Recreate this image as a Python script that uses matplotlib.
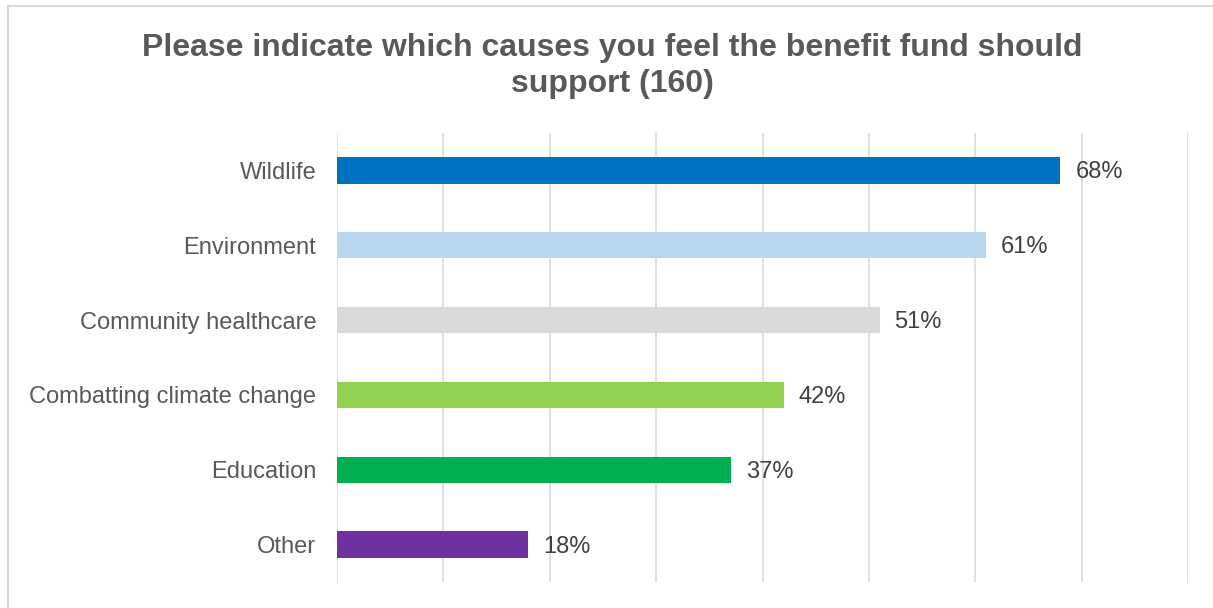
import matplotlib
matplotlib.use("Agg")
import matplotlib.pyplot as plt
from matplotlib.lines import Line2D

categories = ["Wildlife", "Environment", "Community healthcare",
              "Combatting climate change", "Education", "Other"]
values = [68, 61, 51, 42, 37, 18]
colors = ["#0070C0", "#B9D6F1", "#D9D9D9", "#92D050", "#00B050", "#7030A0"]
x_ticks = [0, 10, 20, 30, 40, 50, 60, 70, 80]
title = "Please indicate which causes you feel the benefit fund should\nsupport (160)"

plt.rcParams["font.family"] = ["Liberation Sans", "DejaVu Sans"]

W, H = 1213, 608
fig = plt.figure(figsize=(W / 100, H / 100), dpi=100)
fig.patch.set_facecolor("white")

# chart area frame (left and top edges visible)
fx0, fy0 = 8 / W, 1 - 6 / H
fig.add_artist(Line2D([fx0, fx0], [-0.05, fy0], transform=fig.transFigure,
                      color="#D9D9D9", lw=1.5))
fig.add_artist(Line2D([fx0, 1.05], [fy0, fy0], transform=fig.transFigure,
                      color="#D9D9D9", lw=1.5))

left, right = 337 / W, 1188 / W
top, bottom = 1 - 133 / H, 1 - 582 / H
ax = fig.add_axes([left, bottom, right - left, top - bottom])

y = list(range(len(categories)))
ax.barh(y, values, height=0.35, color=colors, zorder=3)
ax.set_ylim(len(categories) - 0.5, -0.5)
ax.set_xlim(x_ticks[0], x_ticks[-1])
ax.set_xticks(x_ticks)
ax.set_xticklabels([])
ax.tick_params(axis="x", length=0)
ax.tick_params(axis="y", length=0, pad=15)
ax.set_yticks(y)
ax.set_yticklabels(categories, fontsize=17, color="#595959")
ax.grid(axis="x", color="#D9D9D9", lw=1.2, zorder=0)
for s in ax.spines.values():
    s.set_visible(False)

for yi, v in zip(y, values):
    ax.annotate(f"{v}%", xy=(v, yi), xytext=(15, -2), textcoords="offset pixels",
                va="center", ha="left", fontsize=17, color="#404040")

fig.text(612 / W, 1 - 66 / H, title, ha="center", va="center",
         fontsize=23, fontweight="bold", color="#595959", linespacing=1.28)

fig.savefig("out.png", dpi=100)
